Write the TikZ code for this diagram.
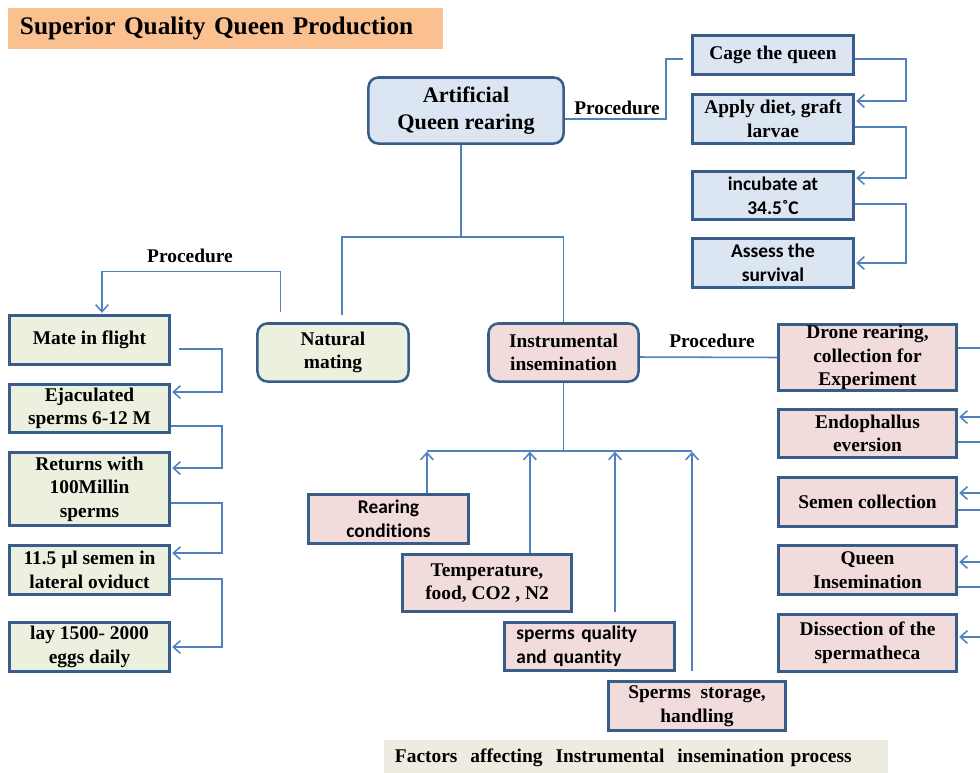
\documentclass[tikz,border=0pt]{standalone}
\usepackage{fontspec}
\setmainfont{Liberation Serif}
\newfontfamily\carlito[Ligatures=NoCommon]{Carlito}
\usepackage{xcolor}
\usepackage{tikz}
\usetikzlibrary{arrows.meta, positioning}

\definecolor{edgeblue}{HTML}{385D8A}
\definecolor{linkblue}{HTML}{4F81BD}
\definecolor{fillblue}{HTML}{DCE6F2}
\definecolor{fillgreen}{HTML}{EBF1DE}
\definecolor{fillpink}{HTML}{F2DCDB}
\definecolor{peach}{HTML}{FAC090}
\definecolor{beige}{HTML}{EEECE1}

\newcommand{\boxfont}{\fontsize{13.8}{16.8}\selectfont\bfseries}

\begin{document}
\begin{tikzpicture}[x=0.025cm, y=-0.025cm,
    >={Straight Barb[length=5pt,width=9pt]},
    link/.style={draw=linkblue, line width=1.1pt},
    arr/.style={link, ->, shorten >=1pt},
    cell/.style={draw=edgeblue, line width=1.8pt, align=center, inner sep=0pt, font=\boxfont},
    bluecell/.style={cell, fill=fillblue},
    greencell/.style={cell, fill=fillgreen},
    pinkcell/.style={cell, fill=fillpink},
    roundcell/.style={rounded corners=7pt},
    proc/.style={font=\boxfont, inner sep=0pt},
    band/.style={inner ysep=0pt, align=left}]
    \useasboundingbox (0,0) rectangle (980,772);
    \clip (0,0) rectangle (980,772);

    % Title and caption
    \node[band, fill=peach, inner xsep=0.3cm, text width=10.275cm, minimum height=1.025cm,
          font=\fontsize{18}{22}\selectfont\bfseries] (title) at (225.5,28.5)
          {Superior Quality Queen Production};
    \node[band, fill=beige, inner xsep=0.275cm, text width=12.05cm, minimum height=0.875cm,
          font=\boxfont] (caption) at (636,757.5)
          {Factors~ affecting~ Instrumental~ insemination process};

    % Main nodes
    \node[bluecell, roundcell, minimum width=4.875cm, minimum height=1.65cm,
          font=\fontsize{15.8}{19}\selectfont\bfseries] (art) at (466,110.5)
          {Artificial\\Queen rearing};
    \node[greencell, roundcell, minimum width=3.775cm, minimum height=1.45cm] (nat) at (333,352.5)
          {Natural\\mating};
    \node[pinkcell, roundcell, minimum width=3.75cm, minimum height=1.45cm] (ins) at (563.5,352.5)
          {Instrumental\\insemination};

    \coordinate (afork) at (461,237);
    \draw[link] (art.south -| afork) -- (afork);
    \draw[link] ([xshift=6.4pt,yshift=5pt]nat.north) |- (afork) -| (ins.north);

    % Artificial queen rearing procedure
    \node[bluecell, minimum width=4.025cm, minimum height=0.975cm] (cage) at (773,55) {Cage the queen};
    \node[bluecell, minimum width=4.025cm, minimum height=1.225cm] (apply) at (773,119) {Apply diet, graft\\larvae};
    \node[bluecell, minimum width=4.025cm, minimum height=1.2cm, font=\boxfont\carlito] (incub) at (773,195.5) {incubate at\\34.5˚C};
    \node[bluecell, minimum width=4.025cm, minimum height=1.225cm, font=\boxfont\carlito] (assess) at (773,263) {Assess the\\survival};

    \node[proc] (proctop) at (617,108) {Procedure};
    \draw[link, shorten >=5.5pt] ([yshift=-6pt]art.east) -- ++(101,0) |- ([yshift=-2.8pt]cage.west);
    \draw[arr] ([yshift=-2.8pt]cage.east) -- ++(51,0) |- ([yshift=12.8pt]apply.east);
    \draw[arr] ([yshift=-5.7pt]apply.east) -- ++(51,0) |- ([yshift=12.4pt]incub.east);
    \draw[arr] ([yshift=-6pt]incub.east) -- ++(51,0) |- (assess.east);

    % Natural mating procedure
    \node[greencell, minimum width=4cm, minimum height=1.225cm] (mate) at (89.5,340) {Mate in flight};
    \node[greencell, minimum width=4cm, minimum height=1.2cm] (ejac) at (89.5,408.5) {Ejaculated\\sperms 6-12 M};
    \node[greencell, minimum width=4cm, minimum height=1.825cm] (ret) at (89.5,489) {Returns with\\100Millin\\sperms};
    \node[greencell, minimum width=4cm, minimum height=1.225cm] (semen) at (89.5,570) {11.5 µl semen in\\lateral oviduct};
    \node[greencell, minimum width=4cm, minimum height=1.225cm] (lay) at (89.5,647) {lay 1500- 2000\\eggs daily};

    \node[proc] (procleft) at (190,256) {Procedure};
    \draw[arr] ([xshift=17.4pt,yshift=7pt]nat.north west) -- ++(0,-41) -| ([xshift=8.9pt]mate.north);
    \draw[arr, shorten <=5.5pt] ([yshift=-6.4pt]mate.east) -- ++(51,0) |- ([yshift=11.7pt]ejac.east);
    \draw[arr] ([yshift=-12.4pt]ejac.east) -- ++(51,0) |- ([yshift=14.9pt]ret.east);
    \draw[arr] ([yshift=-9.9pt]ret.east) -- ++(51,0) |- ([yshift=12pt]semen.east);
    \draw[arr] ([yshift=-6.4pt]semen.east) -- ++(51,0) |- (lay.east);

    % Instrumental insemination procedure
    \node[pinkcell, minimum width=4.45cm, minimum height=1.65cm] (drone) at (867.5,357.5) {Drone rearing,\\collection for\\Experiment};
    \node[pinkcell, minimum width=4.45cm, minimum height=1.2cm] (endo) at (867.5,433.5) {Endophallus\\eversion};
    \node[pinkcell, minimum width=4.45cm, minimum height=1.225cm] (coll) at (867.5,502) {Semen collection};
    \node[pinkcell, minimum width=4.45cm, minimum height=1.225cm] (insem) at (867.5,570) {Queen\\Insemination};
    \node[pinkcell, minimum width=4.45cm, minimum height=1.425cm] (dissect) at (867.5,643) {Dissection of the\\spermatheca};

    \node[proc] (procright) at (712,341) {Procedure};
    \draw[link] ([yshift=-3.2pt]ins.east) -- (drone.west);
    \draw[arr] ([yshift=6.7pt]drone.east) -- ++(45,0) |- ([yshift=11.7pt]endo.east);
    \draw[arr] ([yshift=-6pt]endo.east) -- ++(45,0) |- ([yshift=6.4pt]coll.east);
    \draw[arr] ([yshift=-5.7pt]coll.east) -- ++(45,0) |- ([yshift=5.7pt]insem.east);
    \draw[arr] ([yshift=-12pt]insem.east) -- ++(45,0) |- ([yshift=4.3pt]dissect.east);

    % Factors
    \node[pinkcell, minimum width=4cm, minimum height=1.225cm, font=\boxfont\carlito] (rear) at (388.5,519) {Rearing\\conditions};
    \node[pinkcell, minimum width=4.225cm, minimum height=1.425cm] (temp) at (487,583) {Temperature,\\food, CO2 , N2};
    \node[pinkcell, text width=3.65cm, inner xsep=0.3cm, align=left, minimum height=1.2cm, font=\boxfont\carlito] (qual) at (589.5,646.5) {sperms quality\\and quantity};
    \node[pinkcell, minimum width=4.425cm, minimum height=1.225cm] (store) at (697,706) {Sperms~ storage,\\handling};

    \draw[link] (ins.south) -- ++(0,68) coordinate (ifork);
    \draw[link] (ifork) -- ++(-136.5,0);
    \draw[link] (ifork) -- ++(128.5,0);
    \draw[arr] ([xshift=27.3pt]rear.north) -- ++(0,-43);
    \draw[arr] ([xshift=30.5pt]temp.north) -- ++(0,-103);
    \draw[arr] ([xshift=18.1pt,yshift=6.4pt]qual.north) -- ++(0,-162);
    \draw[arr] ([xshift=-3.5pt,yshift=6.4pt]store.north) -- ++(0,-221);
\end{tikzpicture}
\end{document}
